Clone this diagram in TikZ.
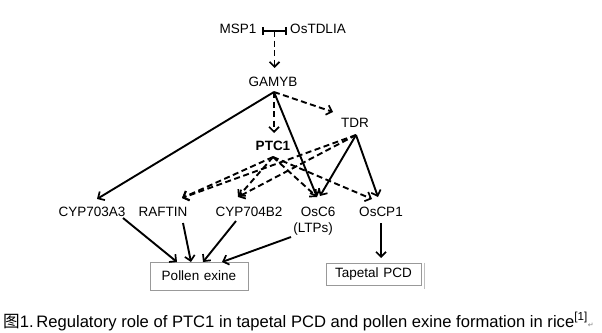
\documentclass[tikz,border=0pt]{standalone}
\usepackage{fontspec}
\setmainfont{Liberation Sans}
\newfontfamily\cjk{Noto Sans CJK SC}
\newfontfamily\dejavu{DejaVu Sans}
\usetikzlibrary{arrows.meta,calc}
\begin{document}
\begin{tikzpicture}[x=1pt,y=-1pt,
  lbl/.style={inner sep=1pt,font=\fontsize{13.5}{15}\selectfont},
  solidarr/.style={line width=1.9pt,-{Straight Barb[length=5pt,width=10pt,line width=1.7pt]}},
  dasharr/.style={solidarr,dash pattern=on 6pt off 3.5pt},
  boxed/.style={draw=black!40,line width=0.8pt,inner sep=0pt,font=\fontsize{13.5}{15}\selectfont}]
\useasboundingbox (0,0) rectangle (602,332);
% labels
\node[lbl] (msp1) at (238,29) {MSP1};
\node[lbl] (ostd) at (318,29) {OsTDLIA};
\node[lbl] (gamyb) at (273,82) {GAMYB};
\node[lbl,font=\fontsize{13.5}{15}\selectfont\bfseries] (ptc1) at (273,146) {PTC1};
\node[lbl] (tdr) at (355,123) {TDR};
\node[lbl] (cyp703) at (92,212) {CYP703A3};
\node[lbl] (raftin) at (163,212) {RAFTIN};
\node[lbl] (cyp704) at (249,212) {CYP704B2};
\node[lbl] (osc6) at (318,212) {OsC6};
\node[lbl] (ltps) at (313,229) {(LTPs)};
\node[lbl] (oscp1) at (381,212) {OsCP1};
\node[boxed,minimum width=98pt,minimum height=28pt] (pollen) at (199,276) {Pollen\hspace{0.35em}exine};
\node[boxed,minimum width=95pt,minimum height=22pt] (tapetal) at (373.5,274) {Tapetal\hspace{0.35em}PCD};
\draw[black!25,line width=0.8pt] ($(tapetal.north east)+(3,0)$) -- ($(tapetal.south east)+(3,4)$);
% connector points
\coordinate (barL) at (262,31);
\coordinate (barR) at (287,31);
\coordinate (barM) at (274.5,31);
\coordinate (gamybIn) at (274.5,68);
\coordinate (gamybOut) at (274,92);
\coordinate (ptcIn) at (274,133);
\coordinate (ptcOut) at (273,157);
\coordinate (tdrIn) at (333,112);
\coordinate (tdrOut) at (356,135);
\coordinate (in703) at (97,199);
\coordinate (inRaf) at (182,198);
\coordinate (in704) at (238,197);
\coordinate (inC6a) at (317,197);
\coordinate (inC6b) at (320,196);
\coordinate (inCP1a) at (372,199);
\coordinate (inCP1b) at (378,197);
\coordinate (out703) at (123,218);
\coordinate (outRaf) at (183,223);
\coordinate (out704) at (236,221);
\coordinate (outLtps) at (291,237);
\coordinate (outCP1) at (381,223);
\coordinate (pe1) at (177,262);
\coordinate (pe2) at (191,262);
\coordinate (pe3) at (203,262);
\coordinate (pe4) at (222,262);
\coordinate (tpIn) at (381,258);
% connectors
\draw[line width=2pt,{Bar[width=8pt,line width=1.6pt]}-{Bar[width=8pt,line width=1.6pt]}] (barL) -- (barR);
\draw[dasharr] (barM) -- (gamybIn);
\draw[solidarr] (gamybOut) -- (in703);
\draw[dasharr] (gamybOut) -- (ptcIn);
\draw[dasharr] (gamybOut) -- (tdrIn);
\draw[solidarr] (gamybOut) -- (inC6a);
\draw[dasharr] (tdrOut) -- (inRaf);
\draw[dasharr] (tdrOut) -- (in704);
\draw[solidarr] (tdrOut) -- (inC6b);
\draw[solidarr] (tdrOut) -- (inCP1b);
\draw[dasharr] (ptcOut) -- (inRaf);
\draw[dasharr] (ptcOut) -- (in704);
\draw[dasharr] (ptcOut) -- (inC6a);
\draw[dasharr] (ptcOut) -- (inCP1a);
\draw[solidarr] (out703) -- (pe1);
\draw[solidarr] (outRaf) -- (pe2);
\draw[solidarr] (out704) -- (pe3);
\draw[solidarr] (outLtps) -- (pe4);
\draw[solidarr] (outCP1) -- (tpIn);
% caption
\node[anchor=base west,inner sep=0pt,font=\fontsize{16.6}{18}\selectfont] (cap) at (3,327)
  {{\cjk 图}1.\,Regulatory role of PTC1 in tapetal PCD and pollen exine formation in rice\textsuperscript{[1]}{\dejavu\color{black!50}\fontsize{7}{7}\selectfont ↵}};
\end{tikzpicture}
\end{document}
